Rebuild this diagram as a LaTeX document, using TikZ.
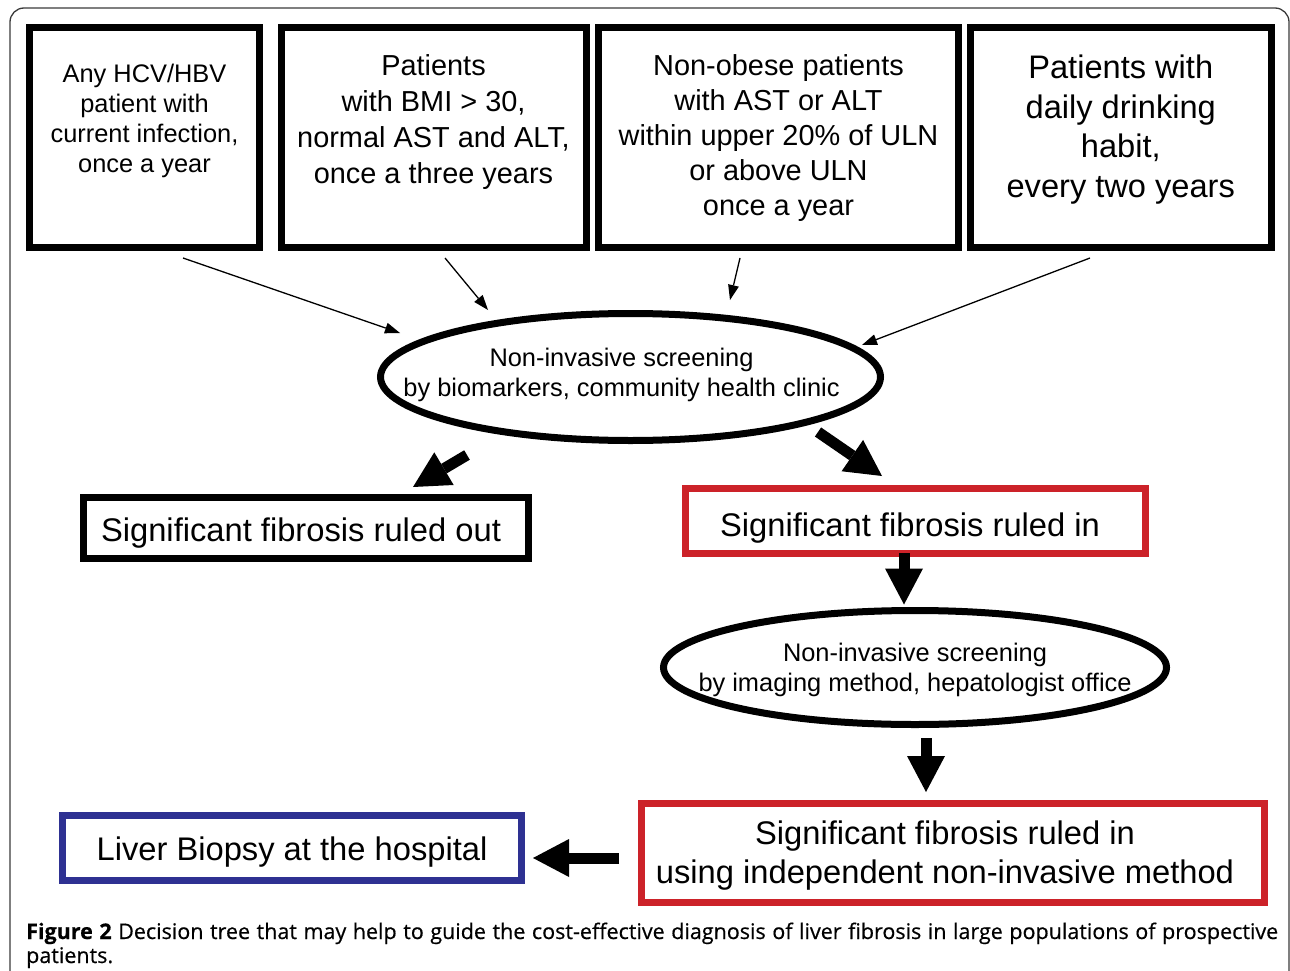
\documentclass[tikz,border=0pt]{standalone}
\usepackage{fontspec}
\setmainfont{Liberation Sans}
\newfontfamily\capfont[FakeBold=0.5]{Open Sans}
\usetikzlibrary{shapes.geometric,arrows.meta}
\definecolor{ruledred}{HTML}{CC2229}
\definecolor{biopsyblue}{HTML}{2E3192}
\definecolor{framegray}{HTML}{3A3A3A}

\begin{document}
\begin{tikzpicture}[x=1pt,y=-1pt,
  topbox/.style={draw,line width=7pt,minimum width=#1,minimum height=219pt,inner sep=0pt},
  txt/.style={inner sep=0pt,align=center},
  screen/.style={ellipse,draw,line width=7pt,inner sep=0pt},
  resbox/.style={rectangle,draw=#1,line width=7pt,inner sep=0pt},
  bigtxt/.style={txt,font=\fontsize{32.7}{39}\selectfont},
  thinarr/.style={line width=1.3pt,-{Triangle[length=15pt,width=11pt,line width=0pt]}},
  blockarr/.style={line width=11pt,-{Triangle[length=36pt,width=38pt,line width=0pt]}}]
\useasboundingbox (0,0) rectangle (1290,971);
%\pgfsetlinewidth{.5pt}
\draw[framegray,line width=1.3pt,rounded corners=14pt] (10,980) -- (10,8) -- (1289,8) -- (1289,980);

% who gets screened, and how often
\node[topbox=230pt] (hcv) at (144.5,137.5) {};
\node[topbox=305pt] (bmi) at (433.5,137.5) {};
\node[topbox=360pt] (obese) at (778.5,137.5) {};
\node[topbox=301.5pt] (drink) at (1120.75,137.5) {};
\node[txt,font=\fontsize{25.4}{30}\selectfont] (hcvtxt) at (144.5,121)
  {Any HCV/HBV\\patient with\\current infection,\\once a year};
\node[txt,font=\fontsize{28.9}{36}\selectfont] (bmitxt) at (433.5,122)
  {Patients\\with BMI > 30,\\normal AST and ALT,\\once a three years};
\node[txt,font=\fontsize{28.9}{35}\selectfont] (obesetxt) at (778.5,138.5)
  {Non-obese patients\\with AST or ALT\\within upper 20\% of ULN\\or above ULN\\once a year};
\node[txt,font=\fontsize{32.6}{39.7}\selectfont] (drinktxt) at (1120.75,129.5)
  {Patients with\\daily drinking\\habit,\\every two years};

% screening steps
\node[screen,minimum width=500pt,minimum height=127pt] (bio) at (630.5,377) {};
\node[screen,minimum width=503pt,minimum height=114pt] (img) at (915,667.5) {};
\node[txt,font=\fontsize{25.4}{30}\selectfont] (biotxt) at (621.5,375)
  {Non-invasive screening\\by biomarkers, community health clinic};
\node[txt,font=\fontsize{25.4}{30.5}\selectfont] (imgtxt) at (915,670)
  {Non-invasive screening\\by imaging method, hepatologist office};

% outcomes
\node[resbox=black,minimum width=445pt,minimum height=61pt] (ruledout) at (306,528) {};
\node[resbox=ruledred,minimum width=460pt,minimum height=65pt] (ruledin) at (915,520.5) {};
\node[resbox=ruledred,minimum width=623pt,minimum height=99pt] (confirm) at (953,853) {};
\node[resbox=biopsyblue,minimum width=459pt,minimum height=65pt] (biopsy) at (292,848) {};
\node[bigtxt] (outtxt) at (301,533) {Significant fibrosis ruled out};
\node[bigtxt] (intxt) at (910,528.5) {Significant fibrosis ruled in};
\node[bigtxt] (confirmtxt) at (945,855.5)
  {Significant fibrosis ruled in\\using independent non-invasive method};
\node[bigtxt] (biopsytxt) at (292,852) {Liver Biopsy at the hospital};

\draw[thinarr] ([shift={(38.5,7.5)}]hcv.south) -- ([shift={(-230.5,-44)}]bio.center);
\draw[thinarr] ([shift={(11.5,7.5)}]bmi.south) -- ([shift={(-142.5,-67)}]bio.center);
\draw[thinarr] ([shift={(-38.5,7.5)}]obese.south) -- ([shift={(99.5,-77)}]bio.center);
\draw[thinarr] ([shift={(-30.75,7.5)}]drink.south) -- ([shift={(231.5,-32)}]bio.center);

\draw[blockarr] ([shift={(-163.5,78)}]bio.center) -- ([shift={(107,-41)}]ruledout.center);
\draw[blockarr] ([shift={(187.5,55)}]bio.center) -- ([shift={(-33,-44.5)}]ruledin.center);
\draw[blockarr] ([shift={(-11,32.5)}]ruledin.center) -- ([shift={(-11,-63)}]img.center);
\draw[blockarr] ([shift={(11,70.5)}]img.center) -- ([shift={(-27,-61)}]confirm.center);
\draw[blockarr] ([shift={(-334,5)}]confirm.center) -- ([shift={(241,10)}]biopsy.center);

% caption
\node[anchor=base west,inner sep=0pt,font=\capfont\fontsize{21.5}{26}\selectfont] (cap) at (26,939)
  {\makebox[1252pt][s]{\textbf{Figure 2} Decision tree that may help to guide the cost-effective diagnosis of liver fibrosis in large populations of prospective}};
\node[anchor=base west,inner sep=0pt,font=\capfont\fontsize{21.5}{26}\selectfont] (cap2) at (26,963)
  {patients.};
\end{tikzpicture}
\end{document}
